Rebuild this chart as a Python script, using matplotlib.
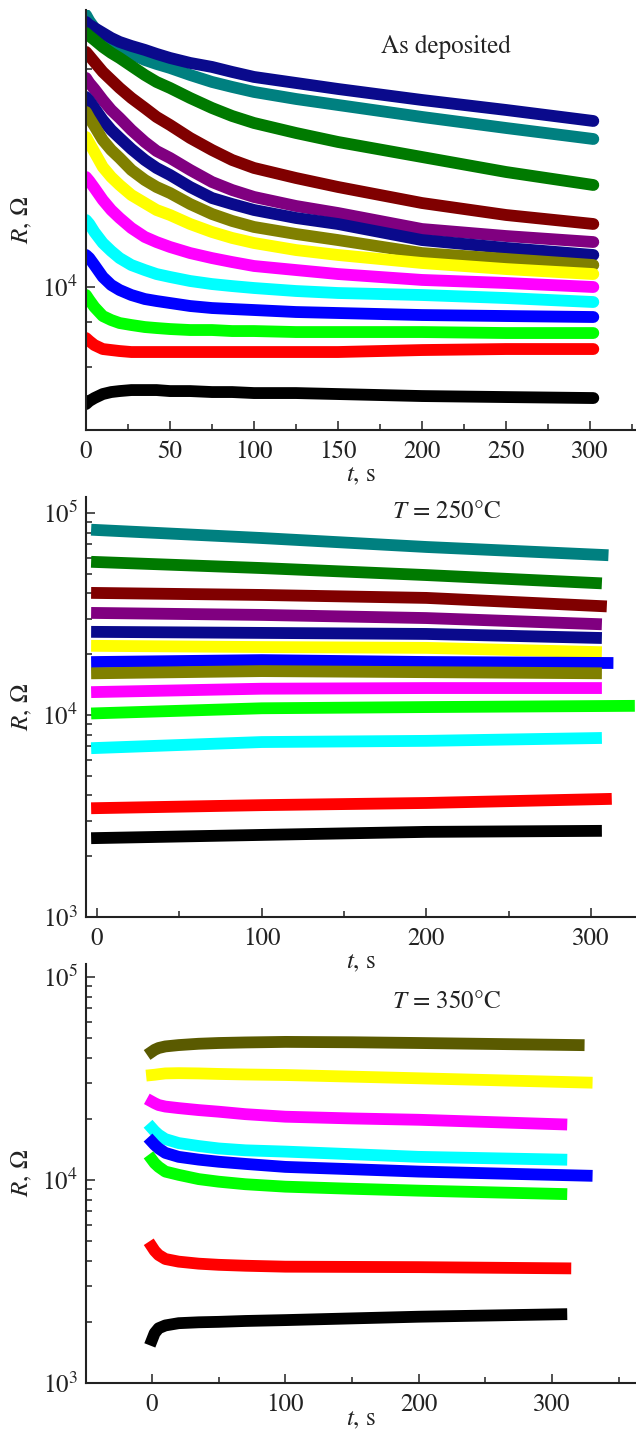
import numpy as np
import matplotlib
matplotlib.use("Agg")
import matplotlib.pyplot as plt
from matplotlib.ticker import MultipleLocator, NullFormatter, LogLocator

#---------------------#
#   DATA (R in Ohm)   #
#---------------------#

# As deposited: all traces share the same time grid
t_dep = [0, 2, 5, 10, 15, 20, 27, 35, 42, 50, 62, 75, 87, 100, 125, 150, 200, 250, 302]
dep_teal    = [56410, 54300, 51940, 49360, 47510, 45750, 44040, 42370, 41310, 40270, 38510, 36840,
               35690, 34570, 33060, 31820, 29490, 27490, 25630]
dep_navy    = [53960, 52940, 51940, 50310, 48730, 47510, 46320, 45170, 44040, 42910, 41570, 40530,
               39260, 38030, 36600, 35230, 32850, 30830, 28740]
dep_green   = [50310, 49360, 48120, 46020, 44320, 42910, 40790, 38510, 36840, 35460, 33270, 31220,
               29670, 28380, 26630, 25150, 22860, 20780, 19130]
dep_maroon  = [44600, 43480, 41840, 39260, 37310, 35460, 33270, 31220, 29490, 28020, 25800, 23900,
               22430, 21320, 20000, 18890, 17060, 15810, 14930]
dep_purple  = [37790, 36600, 35230, 32850, 30830, 29300, 27150, 25150, 23750, 22720, 21050, 19500,
               18530, 17730, 16740, 16010, 14460, 13830, 13310]
dep_navy2   = [33490, 32640, 31220, 28930, 27150, 25800, 24060, 22430, 21320, 20390, 18890, 17610,
               16950, 16320, 15510, 14930, 13480, 12820, 12260]
dep_olive   = [30440, 29300, 27840, 25470, 23900, 22720, 21050, 19750, 18890, 18180, 16950, 15910,
               15220, 14650, 14010, 13480, 12410, 11950, 11500]
dep_yellow  = [25960, 24990, 23600, 21450, 20130, 19130, 17950, 17060, 16320, 15810, 14930, 14190,
               13660, 13230, 12650, 12260, 11650, 11210, 10860]
dep_magenta = [20130, 19620, 18770, 17390, 16320, 15510, 14550, 13750, 13310, 12900, 12410, 12020,
               11720, 11430, 11140, 10860, 10460, 10260, 10000]
dep_cyan    = [15310, 14930, 14190, 13230, 12570, 12020, 11500, 11140, 10860, 10660, 10390, 10190,
               10060, 9937, 9749, 9626, 9504, 9324, 9090]
dep_blue    = [12260, 12020, 11500, 10660, 10130, 9811, 9504, 9265, 9148, 9032, 8862, 8749,
               8694, 8639, 8530, 8476, 8368, 8315, 8263]
dep_lime    = [9504, 9206, 8805, 8315, 8106, 7953, 7853, 7753, 7704, 7655, 7607, 7607,
               7558, 7558, 7510, 7510, 7510, 7463, 7463]
dep_red     = [7229, 7092, 6914, 6741, 6698, 6656, 6614, 6614, 6614, 6614, 6614, 6614,
               6614, 6614, 6614, 6614, 6698, 6741, 6741]
dep_black   = [4751, 4843, 4936, 5063, 5128, 5160, 5193, 5193, 5193, 5160, 5160, 5128,
               5128, 5095, 5095, 5063, 4999, 4967, 4936]

# T = 250 C: t = 0, 100, 200 and the last point of each trace
end_250 = [307, 303, 306, 303, 303, 303, 310, 303, 303, 323, 303, 309, 303]
a250_teal    = [82400, 75200, 67900, 62000]
a250_green   = [57200, 53400, 49300, 45000]
a250_maroon  = [40200, 39300, 38000, 34600]
a250_purple  = [32000, 31300, 30200, 28200]
a250_navy    = [25800, 25500, 25200, 24100]
a250_yellow  = [22000, 21700, 21500, 20500]
a250_blue    = [18300, 18700, 18300, 18100]
a250_olive   = [16100, 16500, 16300, 16100]
a250_magenta = [13000, 13500, 13600, 13600]
a250_lime    = [10200, 10800, 10950, 11100]
a250_cyan    = [6870, 7350, 7450, 7690]
a250_red     = [3460, 3580, 3670, 3840]
a250_black   = [2460, 2550, 2640, 2670]

# T = 350 C: t = 0, 2, 5, 10, 20, 35, 50, 70, 100, 150, 200 and the last point of each trace
end_350 = [320, 326, 307, 307, 326, 307, 310, 307]
a350_olive   = [42900, 43800, 44700, 45500, 46200, 46900, 47300, 47600, 47900, 47700, 47300, 46200]
a350_yellow  = [32900, 33000, 33200, 33500, 33600, 33500, 33300, 33100, 32900, 32300, 31700, 30200]
a350_magenta = [24300, 23900, 23400, 23000, 22600, 22100, 21700, 21100, 20500, 20100, 19800, 18800]
a350_cyan    = [18000, 17400, 16700, 15900, 15200, 14700, 14300, 14000, 13800, 13400, 13000, 12600]
a350_blue    = [15400, 14900, 14300, 13600, 13000, 12600, 12300, 12000, 11600, 11300, 11000, 10500]
a350_lime    = [12600, 12100, 11600, 11000, 10600, 10100, 9810, 9530, 9270, 9050, 8860, 8530]
a350_red     = [4690, 4480, 4270, 4080, 3960, 3870, 3820, 3780, 3740, 3730, 3720, 3670]
a350_black   = [1630, 1760, 1860, 1920, 1970, 1990, 2000, 2020, 2040, 2080, 2120, 2180]

dep_curves = [dep_teal, dep_navy, dep_green, dep_maroon, dep_purple, dep_navy2, dep_olive,
              dep_yellow, dep_magenta, dep_cyan, dep_blue, dep_lime, dep_red, dep_black]
dep_colors = ['#008080', '#0a0a8c', '#007a00', '#800000', '#800080', '#0a0a8c', '#808000',
              '#ffff00', '#ff00ff', '#00ffff', '#0000ff', '#00ff00', '#ff0000', '#000000']

a250_curves = [a250_teal, a250_green, a250_maroon, a250_purple, a250_navy, a250_yellow, a250_blue,
               a250_olive, a250_magenta, a250_lime, a250_cyan, a250_red, a250_black]
a250_colors = ['#008080', '#007a00', '#800000', '#800080', '#0a0a8c', '#ffff00', '#0000ff',
               '#808000', '#ff00ff', '#00ff00', '#00ffff', '#ff0000', '#000000']

a350_curves = [a350_olive, a350_yellow, a350_magenta, a350_cyan, a350_blue, a350_lime, a350_red, a350_black]
a350_colors = ['#5a5a00', '#ffff00', '#ff00ff', '#00ffff', '#0000ff', '#00ff00', '#ff0000', '#000000']


plt.rcParams['font.family'] = 'STIXGeneral'
plt.rcParams['mathtext.fontset'] = 'stix'
plt.rcParams['font.size'] = 18


def style_axes(ax, major, minor):
    ax.patch.set_alpha(0)
    for side in ['top', 'right']:
        ax.spines[side].set_visible(False)
    for side in ['left', 'bottom']:
        ax.spines[side].set_linewidth(1.5)
        ax.spines[side].set_color('#222222')
    ax.set_yscale('log')
    ax.yaxis.set_minor_locator(LogLocator(base=10, subs=np.arange(2, 10)))
    ax.yaxis.set_minor_formatter(NullFormatter())
    ax.xaxis.set_major_locator(MultipleLocator(major))
    ax.xaxis.set_minor_locator(MultipleLocator(minor))
    ax.tick_params(which='major', direction='in', length=6.5, width=1.1, color='#222222',
                   labelsize=18, labelcolor='#222222')
    ax.tick_params(which='minor', direction='in', length=4.5, width=1.1, color='#222222')
    ax.tick_params(axis='x', which='major', pad=7)
    ax.tick_params(axis='y', which='major', pad=6)
    ax.set_xlabel('$t$, s', color='#222222')
    ax.set_ylabel('$R$, Ω', color='#222222')
    ax.xaxis.label.set_va('center')
    ax.yaxis.label.set_va('center')


fig = plt.figure(figsize=(6.36, 14.34), dpi=100)

# ---- As deposited ----
ax1 = fig.add_axes([0.1352, 0.7001, 0.8648, 0.2929])
for vals, c in zip(dep_curves, dep_colors):
    ax1.plot(t_dep, vals, color=c, lw=8.5, solid_capstyle='round', solid_joinstyle='round')
style_axes(ax1, 50, 25)
ax1.set_xlim(0, 327.4)
ax1.set_ylim(4027, 58200)
ax1.text(0.655, 0.912, 'As deposited', transform=ax1.transAxes, ha='center', va='center',
         fontsize=18, color='#222222')
ax1.xaxis.set_label_coords(0.5, -0.107)
ax1.yaxis.set_label_coords(-0.116, 0.5)

# ---- T = 250 C ----
ax2 = fig.add_axes([0.1352, 0.3605, 0.8648, 0.2929])
for vals, c, te in zip(a250_curves, a250_colors, end_250):
    ax2.plot([0, 100, 200, te], vals, color=c, lw=8.5, solid_capstyle='projecting')
style_axes(ax2, 100, 50)
ax2.set_xlim(-6.7, 327.3)
ax2.set_ylim(1000, 1.2e5)
ax2.text(0.655, 0.964, '$T$ = 250°C', transform=ax2.transAxes, ha='center', va='center',
         fontsize=18, color='#222222')
ax2.xaxis.set_label_coords(0.5, -0.107)
ax2.yaxis.set_label_coords(-0.116, 0.5)

# ---- T = 350 C ----
ax3 = fig.add_axes([0.1352, 0.0356, 0.8648, 0.2922])
for vals, c, te in zip(a350_curves, a350_colors, end_350):
    ax3.plot([0, 2, 5, 10, 20, 35, 50, 70, 100, 150, 200, te], vals, color=c, lw=8.5,
             solid_capstyle='projecting', solid_joinstyle='round')
style_axes(ax3, 100, 50)
ax3.set_xlim(-49.5, 363)
ax3.set_ylim(1000, 1.16e5)
ax3.text(0.655, 0.909, '$T$ = 350°C', transform=ax3.transAxes, ha='center', va='center',
         fontsize=18, color='#222222')
ax3.xaxis.set_label_coords(0.5, -0.088)
ax3.yaxis.set_label_coords(-0.116, 0.5)

fig.savefig('out.png', dpi=100)
